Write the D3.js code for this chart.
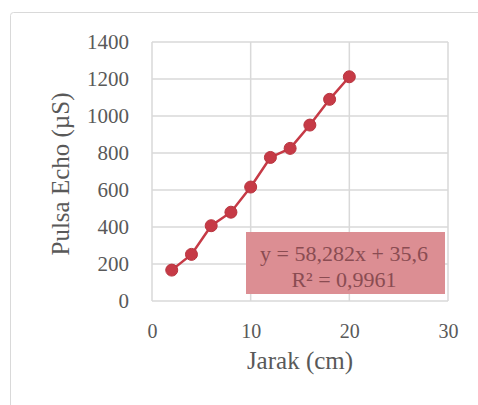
<!DOCTYPE html>
<html>
<head>
<meta charset="utf-8">
<script src="https://cdn.jsdelivr.net/npm/d3@7"></script>
<style>
    body { margin: 0; background: #fff; }
</style>
</head>
<body>
<div id="chart"></div>
<script>
// data
var jarak = [2, 4, 6, 8, 10, 12, 14, 16, 18, 20];
var pulsa = [167, 252, 407, 480, 616, 776, 825, 951, 1090, 1212];
var xTicks = [0, 10, 20, 30];
var yTicks = [0, 200, 400, 600, 800, 1000, 1200, 1400];
var trendLines = ['y = 58,282x + 35,6', 'R² = 0,9961'];

var serif = 'Liberation Serif';
var red = '#c63a46';

var width = 478,
    height = 405,
    margin = { top: 42, right: 30, bottom: 104, left: 152 };

var svg = d3.select('#chart')
    .append('svg')
    .attr('width', width)
    .attr('height', height);

// chart frame
svg.append('rect')
    .attr('x', 10.5).attr('y', 12.5)
    .attr('width', 490).attr('height', 420)
    .attr('rx', 3)
    .attr('fill', 'none')
    .attr('stroke', '#d9d9d9');

var x = d3.scaleLinear().domain([0, 30]).range([margin.left, width - margin.right]);
var y = d3.scaleLinear().domain([0, 1400]).range([height - margin.bottom, margin.top]);

var g = svg.append('g');

// gridlines
g.selectAll('.hgrid')
    .data(yTicks)
    .enter()
    .append('line')
    .attr('x1', x(0)).attr('x2', x(30))
    .attr('y1', function(d) { return y(d); })
    .attr('y2', function(d) { return y(d); })
    .attr('stroke', '#d9d9d9')
    .attr('stroke-width', 1.5);

g.selectAll('.vgrid')
    .data(xTicks)
    .enter()
    .append('line')
    .attr('y1', y(0)).attr('y2', y(1400))
    .attr('x1', function(d) { return x(d); })
    .attr('x2', function(d) { return x(d); })
    .attr('stroke', '#d9d9d9')
    .attr('stroke-width', 1.5);

// y axis labels
var yAxis = svg.append('g')
    .attr('transform', 'translate(' + (x(0) - 23) + ',0)')
    .call(d3.axisLeft(y).tickValues(yTicks).tickFormat(d3.format('d')).tickSize(0).tickPadding(0));
yAxis.select('.domain').remove();
yAxis.selectAll('text')
    .attr('font-family', serif)
    .attr('font-size', 21)
    .attr('fill', '#595959');

// x axis labels
var xAxis = svg.append('g')
    .attr('transform', 'translate(0,' + (y(0) + 23) + ')')
    .call(d3.axisBottom(x).tickValues(xTicks).tickFormat(d3.format('d')).tickSize(0).tickPadding(0));
xAxis.select('.domain').remove();
xAxis.selectAll('text')
    .attr('font-family', serif)
    .attr('font-size', 20)
    .attr('fill', '#595959');

// axis titles
svg.append('text')
    .attr('x', x(15))
    .attr('y', 369)
    .attr('text-anchor', 'middle')
    .attr('font-family', serif)
    .attr('font-size', 25)
    .attr('fill', '#595959')
    .text('Jarak (cm)');

svg.append('text')
    .attr('transform', 'translate(69,' + 174 + ') rotate(-90)')
    .attr('text-anchor', 'middle')
    .attr('font-family', serif)
    .attr('font-size', 25)
    .attr('fill', '#595959')
    .text('Pulsa Echo (µS)');

// series
var line = d3.line()
    .x(function(d, i) { return x(jarak[i]); })
    .y(function(d) { return y(d); });

svg.append('path')
    .datum(pulsa)
    .attr('d', line)
    .attr('fill', 'none')
    .attr('stroke', red)
    .attr('stroke-width', 2.5);

svg.selectAll('.dot')
    .data(pulsa)
    .enter()
    .append('circle')
    .attr('cx', function(d, i) { return x(jarak[i]); })
    .attr('cy', function(d) { return y(d); })
    .attr('r', 6)
    .attr('fill', red)
    .attr('stroke', '#b8353f')
    .attr('stroke-width', 1);

// trendline label
var box = svg.append('g');
box.append('rect')
    .attr('x', 246).attr('y', 232)
    .attr('width', 199).attr('height', 62)
    .attr('fill', '#dc8e93');

box.selectAll('text')
    .data(trendLines)
    .enter()
    .append('text')
    .attr('x', 344)
    .attr('y', function(d, i) { return 261 + i * 26; })
    .attr('text-anchor', 'middle')
    .attr('font-family', serif)
    .attr('font-size', 22)
    .attr('fill', '#8a4c52')
    .text(function(d) { return d; });
</script>
</body>
</html>
